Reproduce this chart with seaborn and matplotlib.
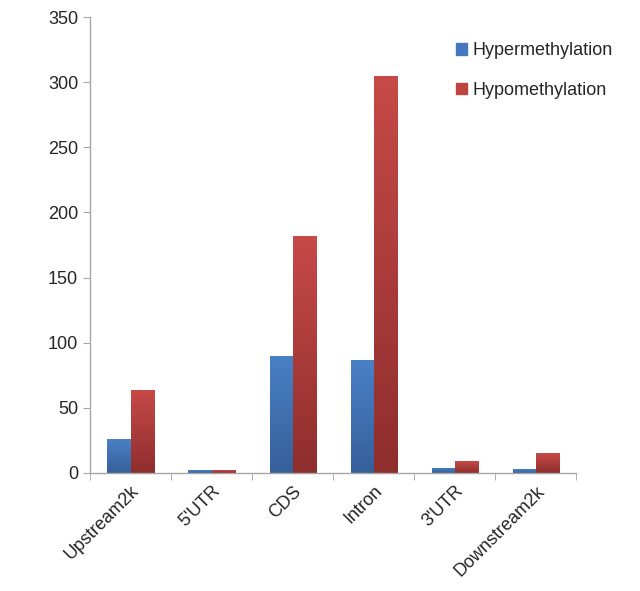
import numpy as np
import pandas as pd
import matplotlib
matplotlib.use("Agg")
import matplotlib.pyplot as plt
import seaborn as sns
from matplotlib.colors import LinearSegmentedColormap

# dados
regioes = ["Upstream2k", "5'UTR", "CDS", "Intron", "3'UTR", "Downstream2k"]
hiper = [26, 2, 90, 87, 4, 3]
hipo = [64, 2, 182, 305, 9, 15]
series = ["Hypermethylation", "Hypomethylation"]

df = pd.DataFrame({
    "regiao": regioes * 2,
    "valor": hiper + hipo,
    "tipo": [series[0]] * len(regioes) + [series[1]] * len(regioes),
})

sns.set_style("white")
plt.rcParams["font.family"] = ["Liberation Sans", "DejaVu Sans"]

fig = plt.figure(figsize=(6.4, 5.91), dpi=100)
ax = fig.add_axes([0.1406, 0.1997, 0.76, 0.7715])

cores = {series[0]: "#4477be", series[1]: "#be4441"}
sns.barplot(data=df, x="regiao", y="valor", hue="tipo", order=regioes,
            hue_order=series, palette=cores, width=0.57, ax=ax,
            saturation=1, legend=False)

# gradiente estilo Excel dentro de cada barra
grad = {
    series[0]: LinearSegmentedColormap.from_list("b", ["#36609a", "#4a80c6"]),
    series[1]: LinearSegmentedColormap.from_list("r", ["#8e2e2d", "#c64a48"]),
}
g = np.linspace(0, 1, 256).reshape(-1, 1)
for cont, nome in zip(ax.containers, series):
    for p in cont.patches:
        x0, y0 = p.get_x(), p.get_y()
        w, h = p.get_width(), p.get_height()
        im = ax.imshow(g, cmap=grad[nome], aspect="auto", origin="lower",
                       extent=[x0, x0 + w, y0, y0 + h], zorder=p.get_zorder())
        im.set_clip_path(p)
        p.set_facecolor("none")
        p.set_edgecolor("none")

ax.set_xlim(-0.5, 5.5)
ax.set_ylim(0, 350)
ax.set_yticks(range(0, 351, 50))
ax.set_xlabel("")
ax.set_ylabel("")

for s in ["top", "right"]:
    ax.spines[s].set_visible(False)
for s in ["left", "bottom"]:
    ax.spines[s].set_color("#a6a6a6")
    ax.spines[s].set_linewidth(1.0)

ax.set_xticks(np.arange(-0.5, 6, 1), minor=True)
ax.tick_params(axis="x", which="minor", length=5, color="#a6a6a6", bottom=True)
ax.tick_params(axis="x", which="major", length=0, labelsize=13, pad=7)
ax.tick_params(axis="y", length=5, color="#a6a6a6", left=True, labelsize=13)
plt.setp(ax.get_xticklabels(), rotation=45, ha="right", rotation_mode="anchor")

alcas = [plt.Rectangle((0, 0), 1, 1, color=cores[s]) for s in series]
ax.legend(alcas, series, loc="upper left", bbox_to_anchor=(0.72, 0.98),
          frameon=False, fontsize=13, handlelength=0.6, handleheight=0.6,
          handletextpad=0.3, labelspacing=1.25)

fig.savefig("out.png", dpi=100)
